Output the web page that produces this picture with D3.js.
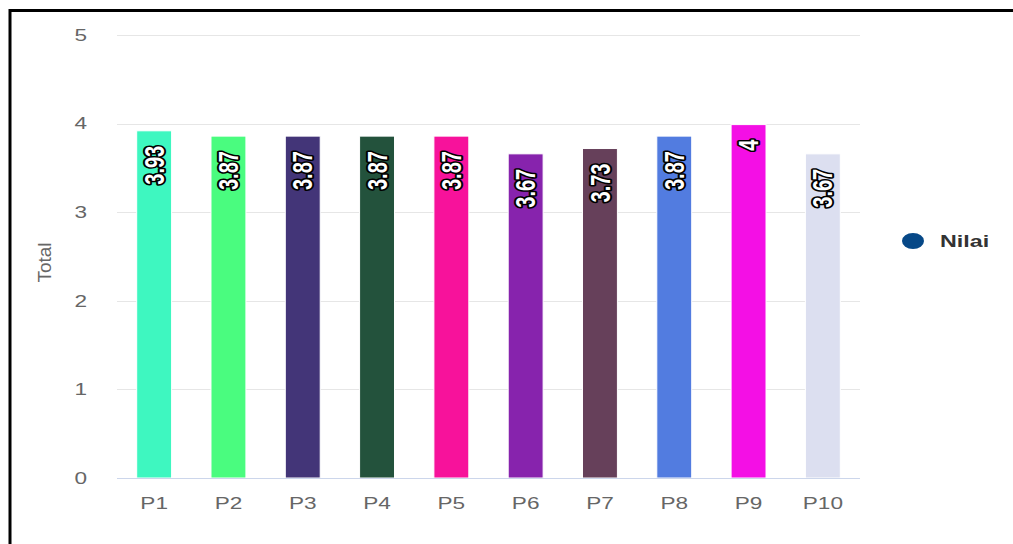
<!DOCTYPE html>
<html lang="id">
  <head>
    <meta charset="UTF-8">
    <title>Nilai</title>
    <style>
      html, body {
        margin: 0;
        padding: 0;
        background: #fff;
      }

      text {
        font-family: "Liberation Sans", Arial, sans-serif;
      }

      .grid line {
        stroke: #e6e6e6;
        stroke-width: 1px;
      }

      .tick-label {
        fill: #666;
        font-size: 16.5px;
      }

      .value-label {
        fill: #fff;
        stroke: #000;
        stroke-width: 3px;
        stroke-linejoin: round;
        paint-order: stroke;
        font-size: 20px;
        font-weight: bold;
      }
    </style>
  </head>
  <body>
    <svg width="1013" height="544"></svg>
    <script src="https://cdn.jsdelivr.net/npm/d3@7/dist/d3.min.js"></script>
    <script>

      // data
      const categories = ['P1', 'P2', 'P3', 'P4', 'P5', 'P6', 'P7', 'P8', 'P9', 'P10']
      const nilai = [3.93, 3.87, 3.87, 3.87, 3.87, 3.67, 3.73, 3.87, 4, 3.67]
      const barColors = ['#3ef7c0', '#4afc7f', '#433578', '#23523c', '#f7129b',
        '#8723ad', '#66405a', '#527ce0', '#f40fe5', '#dcdff0']
      const yTicks = [0, 1, 2, 3, 4, 5]
      const seriesName = 'Nilai'
      const axisTitle = 'Total'

      // the text in the picture is a little wider than tall
      const SX = 1.37

      const svg = d3.select('svg')

      const x = d3.scaleBand()
        .domain(categories)
        .range([117, 860])
        .paddingInner(0.53)
        .paddingOuter(0.265)

      const y = d3.scaleLinear()
        .domain([0, 5])
        .range([478, 35])

      // frame (only left and top edge visible)
      svg.append('path')
        .attr('d', 'M10,544V10.5H1013')
        .attr('fill', 'none')
        .attr('stroke', '#000')
        .attr('stroke-width', 3)

      // grid lines
      svg.append('g')
        .attr('class', 'grid')
        .selectAll('line')
        .data(yTicks.filter(d => d > 0))
        .enter().append('line')
        .attr('x1', 117)
        .attr('x2', 860)
        .attr('y1', d => Math.round(y(d)) + 0.5)
        .attr('y2', d => Math.round(y(d)) + 0.5)

      // y tick labels
      svg.append('g')
        .selectAll('text')
        .data(yTicks)
        .enter().append('text')
        .attr('class', 'tick-label')
        .attr('text-anchor', 'end')
        .attr('dy', '0.35em')
        .attr('transform', d => 'translate(87,' + y(d) + ') scale(' + SX + ',1)')
        .text(d => d)

      // y axis title
      svg.append('text')
        .attr('fill', '#666')
        .attr('font-size', 19)
        .attr('text-anchor', 'middle')
        .attr('dy', '0.35em')
        .attr('transform', 'translate(44,' + ((y(0) + y(5)) / 2 + 6) + ') rotate(-90)')
        .text(axisTitle)

      // bars
      svg.append('g')
        .selectAll('rect')
        .data(nilai)
        .enter().append('rect')
        .attr('x', (d, i) => x(categories[i]))
        .attr('y', d => y(d) + 1)
        .attr('width', x.bandwidth())
        .attr('height', d => y(0) - y(d) - 1)
        .attr('fill', (d, i) => barColors[i])
        .attr('stroke', '#fff')
        .attr('stroke-width', 1)

      // x axis line
      svg.append('line')
        .attr('x1', 117)
        .attr('x2', 860)
        .attr('y1', y(0) + 0.5)
        .attr('y2', y(0) + 0.5)
        .attr('stroke', '#ccd6eb')
        .attr('stroke-width', 1)

      // x labels
      svg.append('g')
        .selectAll('text')
        .data(categories)
        .enter().append('text')
        .attr('class', 'tick-label')
        .attr('text-anchor', 'middle')
        .attr('transform', d => 'translate(' + (x(d) + x.bandwidth() / 2) + ',509) scale(' + SX + ',1)')
        .text(d => d)

      // value labels, rotated, inside top of bar
      svg.append('g')
        .selectAll('text')
        .data(nilai)
        .enter().append('text')
        .attr('class', 'value-label')
        .attr('text-anchor', 'end')
        .attr('dy', '0.35em')
        .attr('transform', (d, i) => 'translate(' + (x(categories[i]) + x.bandwidth() / 2) + ',' +
          (y(d) + 16) + ') scale(' + SX + ',1) rotate(-90)')
        .text(d => String(d))

      // legend
      const legend = svg.append('g')
        .attr('transform', 'translate(913,241)')

      legend.append('ellipse')
        .attr('rx', 11)
        .attr('ry', 8)
        .attr('fill', '#064887')

      legend.append('text')
        .attr('fill', '#333')
        .attr('font-size', 17)
        .attr('font-weight', 'bold')
        .attr('dy', '0.35em')
        .attr('transform', 'translate(27,0) scale(' + SX + ',1)')
        .text(seriesName)

    </script>
  </body>
</html>
